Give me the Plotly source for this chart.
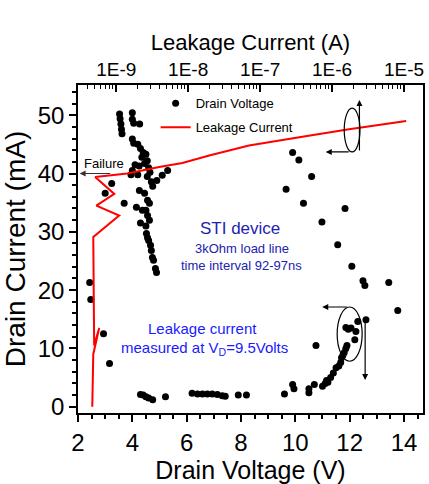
import plotly.graph_objects as go

# Drain voltage (V) vs drain current (mA) measured along the 3 kOhm load line
drain_v = [3.53, 3.55, 3.58, 3.60, 3.62, 4.00, 4.00, 4.05, 4.27,
           4.00, 4.05, 4.20, 4.30, 4.40, 4.35, 4.50, 4.55, 4.45, 4.25, 4.10,
           4.60, 4.65, 4.00, 3.95, 4.20, 4.55, 4.70, 4.75, 5.30, 5.10, 4.90,
           3.24, 3.00, 3.70,
           4.26, 4.45, 4.56, 4.63, 4.50, 4.37, 4.15, 4.56, 4.63, 4.30, 4.50,
           4.52, 4.56, 4.60, 4.67, 4.70, 4.74, 4.78, 4.85, 4.89,
           2.43, 2.47, 2.94, 3.16,
           4.30, 4.40, 4.50, 4.60, 4.75, 5.22, 6.20, 6.40, 6.58, 6.76, 6.94,
           7.13, 7.31, 7.42, 7.90, 8.20,
           9.90, 10.13, 10.60, 9.66, 10.30, 11.83, 10.98, 11.56, 12.08, 12.49,
           12.56, 13.44, 13.77, 12.60, 12.30, 11.86, 11.95, 12.05, 12.23, 12.19,
           10.76, 11.90, 11.86, 11.80, 11.70, 11.67, 11.50, 11.40, 11.30, 11.15,
           11.10, 10.70, 10.50, 10.50, 9.90, 9.95, 9.60, 11.00, 11.20, 11.60,
           11.75]
drain_i = [50.2, 49.4, 48.5, 47.6, 46.8, 50.4, 49.3, 48.6, 48.5,
           45.9, 45.2, 45.0, 44.3, 43.6, 42.8, 43.3, 42.2, 41.7, 41.3, 41.5,
           41.0, 40.2, 40.5, 39.8, 39.8, 39.5, 38.6, 37.8, 40.5, 39.7, 38.8,
           38.3, 36.6, 34.9,
           37.1, 36.6, 35.4, 34.9, 33.7, 33.7, 34.2, 32.8, 32.0, 31.5, 31.0,
           29.7, 29.0, 28.5, 27.7, 26.8, 25.6, 25.1, 23.7, 23.0,
           21.3, 18.4, 12.5, 7.4,
           2.1, 2.0, 1.7, 1.5, 1.2, 1.7, 2.3, 2.2, 2.2, 2.2, 2.2,
           2.1, 1.9, 1.8, 2.0, 2.0,
           43.6, 42.3, 39.5, 37.3, 34.9, 34.0, 31.7, 27.8, 24.1, 21.6,
           20.8, 21.3, 16.5, 14.9, 14.6, 13.6, 13.3, 13.5, 12.9, 11.5,
           10.5, 10.5, 10.0, 9.3, 8.4, 7.6, 6.7, 5.8, 5.0, 4.5,
           4.0, 3.8, 3.1, 2.4, 3.8, 3.1, 2.2, 3.5, 4.2, 7.0,
           8.8]

# Leakage current (A) at V_D = 9.5 V after each stress step, vs drain current (mA)
leak_a = [4.65e-10, 4.8e-10, 5.8e-10, 4.94e-10, 4.8e-10, 1.1e-9, 5.3e-10,
          9.4e-10, 5.1e-10, 1.42e-9, 3.95e-9, 8.3e-9, 1.96e-8, 7.0e-8,
          3.5e-7, 1.72e-6, 1.07e-5]
leak_i = [0.0, 9.0, 13.5, 10.5, 29.1, 32.8, 34.5, 36.5, 39.4, 40.0, 41.1,
          41.8, 43.1, 44.8, 46.2, 47.6, 49.0]

v_ticks = [2, 4, 6, 8, 10, 12, 14]
i_ticks = [0, 10, 20, 30, 40, 50]
leak_ticks = [1e-9, 1e-8, 1e-7, 1e-6, 1e-5]
leak_labels = ["1E-9", "1E-8", "1E-7", "1E-6", "1E-5"]

FONT = "Liberation Sans, Arial, sans-serif"

fig = go.Figure()
fig.add_trace(go.Scatter(
    x=drain_v, y=drain_i, mode="markers", name="Drain Voltage",
    legendgroup="a",
    marker=dict(color="black", size=7, line=dict(width=0)),
    xaxis="x", yaxis="y"))
fig.add_trace(go.Scatter(
    x=leak_a, y=leak_i, mode="lines", name="Leakage Current",
    legendgroup="b",
    line=dict(color="#ff0000", width=2),
    xaxis="x2", yaxis="y"))

axis_common = dict(showline=True, linecolor="black", linewidth=1.5,
                   tickcolor="black", tickwidth=1.5,
                   ticklen=7, showgrid=False, zeroline=False)

fig.update_layout(
    width=429, height=484,
    margin=dict(l=78, r=4, t=85, b=71),
    paper_bgcolor="white", plot_bgcolor="white",
    font=dict(family=FONT, color="black"),
    xaxis=dict(range=[2, 14.7], tickvals=v_ticks, ticks="outside",
               tickfont=dict(size=24),
               title=dict(text="Drain Voltage (V)", standoff=1,
                          font=dict(size=25)),
               minor=dict(dtick=0.5, ticks="outside", ticklen=4,
                          tickwidth=1.5, tickcolor="black"),
               **axis_common),
    xaxis2=dict(type="log", range=[-9.531, -4.737], overlaying="x",
                side="top", anchor="y", tickvals=leak_ticks,
                ticktext=leak_labels, ticks="inside",
                tickfont=dict(size=19),
                title=dict(text="Leakage Current (A)", standoff=2,
                           font=dict(size=22)),
                minor=dict(ticks="inside", ticklen=4, tickwidth=1.2,
                           tickcolor="black", dtick="D1"),
                **axis_common),
    yaxis=dict(range=[-1.08, 55.18], tickvals=i_ticks, mirror=True,
               ticks="outside", tickfont=dict(size=24),
               title=dict(text="Drain Current (mA)", standoff=4,
                          font=dict(size=28)),
               minor=dict(dtick=2, ticks="outside", ticklen=4,
                          tickwidth=1.5, tickcolor="black"),
               **axis_common),
    legend=dict(x=0.225, y=0.99, xanchor="left", yanchor="top",
                bgcolor="rgba(0,0,0,0)", tracegroupgap=4,
                traceorder="grouped",
                font=dict(size=13, color="black")),
    showlegend=True,
)

arrow = dict(xref="x", yref="y", axref="x", ayref="y", text="",
             showarrow=True, arrowhead=2, arrowsize=1, arrowwidth=1.2,
             arrowcolor="black")

# "Failure" marker on the drain-current axis
fig.add_annotation(x=2.06, y=40, ax=3.24, ay=40,
                   **{**arrow, "arrowcolor": "#333333"})
fig.add_annotation(x=2.13, y=41.8, xref="x", yref="y", text="Failure",
                   showarrow=False, xanchor="left", yanchor="middle",
                   font=dict(size=13, color="black"))

# Axis-assignment ellipses with arrows
fig.add_shape(type="circle", xref="x", yref="y",
              x0=11.8, x1=12.38, y0=43.7, y1=51.2,
              line=dict(color="black", width=1.2))
fig.add_annotation(x=12.36, y=52.6, ax=12.36, ay=43.7, **arrow)
fig.add_annotation(x=11.12, y=43.7, ax=12.02, ay=43.7, **arrow)
fig.add_shape(type="circle", xref="x", yref="y",
              x0=11.54, x1=12.46, y0=7.8, y1=17.1,
              line=dict(color="black", width=1.2))
fig.add_annotation(x=10.99, y=17.1, ax=11.95, ay=17.1, **arrow)
fig.add_annotation(x=12.57, y=4.6, ax=12.57, ay=15.2, **arrow)

# Device / measurement notes
navy = "#2222b0"
blue = "#1a1aff"
fig.add_annotation(x=7.96, y=30.65, xref="x", yref="y", text="STI device",
                   showarrow=False, font=dict(size=17, color=navy))
fig.add_annotation(x=8.03, y=27.2, xref="x", yref="y", text="3kOhm load line",
                   showarrow=False, font=dict(size=13, color=navy))
fig.add_annotation(x=8.03, y=24.3, xref="x", yref="y",
                   text="time interval 92-97ns",
                   showarrow=False, font=dict(size=13, color=navy))
fig.add_annotation(x=6.57, y=13.5, xref="x", yref="y", text="Leakage current",
                   showarrow=False, font=dict(size=15, color=blue))
fig.add_annotation(x=6.66, y=9.9, xref="x", yref="y",
                   text="measured at V<sub>D</sub>=9.5Volts",
                   showarrow=False, font=dict(size=15, color=blue))

fig.write_html("out.html")
